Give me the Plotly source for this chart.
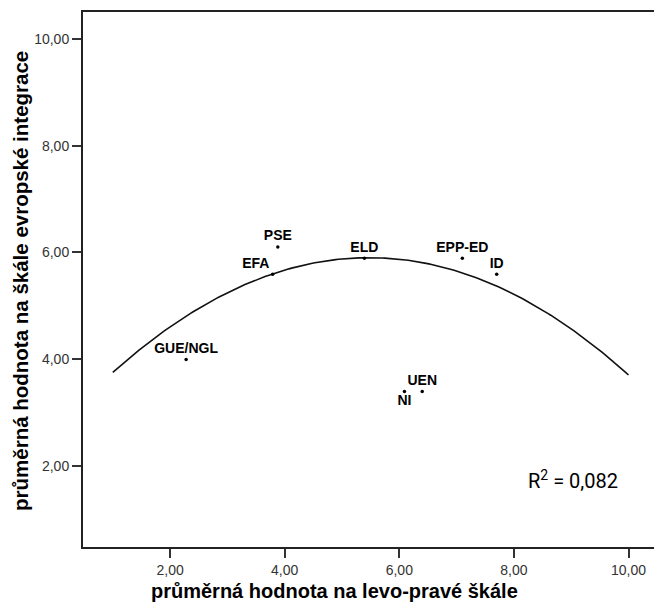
import numpy as np
import plotly.graph_objects as go

# Data
parties = ["PSE", "EFA", "ELD", "EPP-ED", "ID", "GUE/NGL", "NI", "UEN"]
left_right = [3.88, 3.79, 5.39, 7.10, 7.70, 2.28, 6.09, 6.40]
eu_integration = [6.10, 5.59, 5.89, 5.89, 5.59, 3.99, 3.39, 3.39]
label_pos = ["top center", "top left", "top center", "top center", "top center",
             "top center", "bottom center", "top center"]

# Points (start, peak, end)
fit_x = [1.0, 5.4, 10.0]
fit_y = [3.75, 5.90, 3.70]

tick_vals = [2, 4, 6, 8, 10]
tick_text = ["2,00", "4,00", "6,00", "8,00", "10,00"]
r2_text = "R<sup>2</sup> = 0,082"

coef = np.polyfit(fit_x, fit_y, 2)
xf = np.linspace(fit_x[0], fit_x[-1], 200)
yf = np.polyval(coef, xf)

FONT = "Liberation Sans, Arial"

fig = go.Figure()
fig.add_trace(go.Scatter(x=xf, y=yf, mode="lines",
                         line=dict(color="#111111", width=1.6),
                         hoverinfo="skip", showlegend=False))
fig.add_trace(go.Scatter(x=left_right, y=eu_integration, mode="markers+text",
                         text=parties, textposition=label_pos,
                         textfont=dict(family=FONT, size=14, color="#000000", weight="bold"),
                         marker=dict(color="#000000", size=3.5),
                         showlegend=False))

axis_common = dict(showgrid=False, zeroline=False, showline=True, linecolor="#222222",
                   linewidth=2, ticks="outside", ticklen=9, tickwidth=1.5, tickcolor="#333333",
                   tickvals=tick_vals, ticktext=tick_text, automargin=False,
                   tickfont=dict(family=FONT, size=14, color="#333333"))

fig.update_xaxes(range=[0.48, 10.445], mirror=True, **axis_common)
fig.update_yaxes(range=[0.476, 10.506], mirror=False, **axis_common)

PW, PH = 571, 535
fig.add_annotation(text="průměrná hodnota na levo-pravé škále", xref="paper", yref="paper",
                   x=(334 - 83) / PW, y=-(591 - 547) / PH, showarrow=False,
                   xanchor="center", yanchor="middle",
                   font=dict(family=FONT, size=20, color="#000000", weight="bold"))
fig.add_annotation(text="průměrná hodnota na škále evropské integrace", xref="paper", yref="paper",
                   x=-(83 - 20) / PW, y=(547 - 281) / PH, showarrow=False, textangle=-90,
                   xanchor="center", yanchor="middle",
                   font=dict(family=FONT, size=20.5, color="#000000", weight="bold"))
fig.add_annotation(text=r2_text, xref="paper", yref="paper",
                   x=(573 - 83) / PW, y=(547 - 480) / PH, showarrow=False,
                   xanchor="center", yanchor="middle",
                   font=dict(family="Roboto, Liberation Sans", size=20, color="#000000"))

fig.update_layout(width=654, height=603, margin=dict(l=83, r=0, t=12, b=56),
                  paper_bgcolor="white", plot_bgcolor="white")

fig.write_html("out.html", config={"displayModeBar": False},
               post_script="document.body.style.margin='0';document.body.style.overflow='hidden';")
